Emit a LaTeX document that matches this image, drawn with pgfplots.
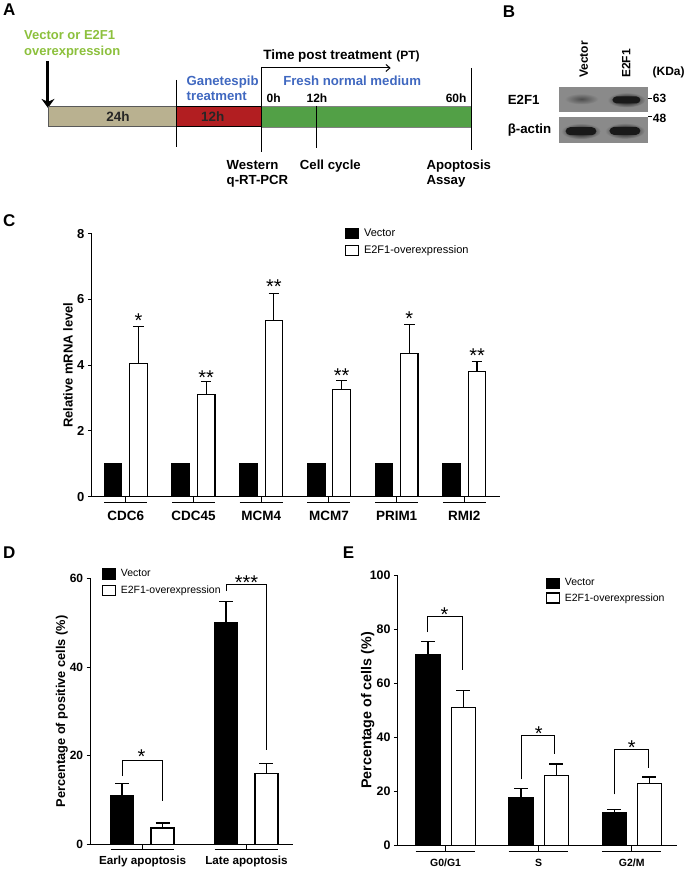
\documentclass[border=0pt]{standalone}
\usepackage{fontspec}
\setmainfont{Liberation Sans}
\usepackage{pgfplots}
\usepackage{pgfplotstable}
\pgfplotsset{compat=1.18}
\usetikzlibrary{arrows.meta}
\definecolor{tanbar}{HTML}{B9B190}
\definecolor{redbar}{HTML}{B21E21}
\definecolor{greenbar}{HTML}{52A046}
\definecolor{bluetxt}{HTML}{4068C0}
\definecolor{greentxt}{HTML}{8CC03C}
\definecolor{blotgray}{HTML}{8A8A8A}
\newcommand{\fs}[1]{\fontsize{#1}{#1}\selectfont}

\pgfplotstableread{
x y
0 1
1 1
2 1
3 1
4 1
5 1
}\dataCvec
\pgfplotstableread{
x y e
0 4.04 1.13
1 3.11 0.39
2 5.35 0.84
3 3.27 0.27
4 4.35 0.90
5 3.80 0.31
}\dataCe
\pgfplotstableread{
x y e
0 11.06 2.64
1 50.2 4.7
}\dataDvec
\pgfplotstableread{
x y e
0 3.68 1.12
1 16.0 2.3
}\dataDe
\pgfplotstableread{
x y e
0 70.6 5.0
1 17.7 3.3
2 12.0 1.3
}\dataEvec
\pgfplotstableread{
x y e
0 51.0 6.5
1 26.0 4.1
2 22.8 2.5
}\dataEe

\tikzset{
  vec/.style={fill=black, draw=black, line width=1.2pt},
  e2f/.style={fill=white, draw=black, line width=1.2pt},
}
\pgfplotsset{
  prism/.style={
    scale only axis, anchor=south west, clip=false,
    axis x line=bottom, axis y line=left,
    axis line style={line width=1pt,-},
    every tick/.style={line width=1pt,black},
    tick align=outside, major tick length=4pt,
    ymin=0, ybar,
    /pgf/number format/assume math mode=true,
    ylabel style={font=\bfseries\fs{13}, anchor=center},
    legend cell align=left,
    legend style={draw=none, fill=none, inner sep=0pt, row sep=4pt, font=\fs{11}, anchor=north west},
    legend image code/.code={\draw[##1,line width=1.2pt] (0pt,-5pt) rectangle (13pt,5pt); \path (16pt,0pt);},
  },
  ebar/.style={error bars/.cd, y dir=plus, y explicit,
    error bar style={line width=1.2pt,black},
    error mark options={rotate=90,mark size=#1,line width=1.2pt,black}},
}

\begin{document}
\begin{tikzpicture}
\begin{scope}[x=1pt,y=-1pt]
\useasboundingbox (0,0) rectangle (688,870);
% ---------------- Panel A
\node[font=\bfseries\fs{17}, anchor=north west, inner sep=0] at (3,4) {A};
\node[font=\bfseries\fs{13}, text=greentxt, anchor=base west, inner sep=0] at (24,39.3) {Vector or E2F1};
\node[font=\bfseries\fs{13}, text=greentxt, anchor=base west, inner sep=0] at (24,55.5) {overexpression};
\draw[line width=3pt, -{Stealth[length=9pt,width=13pt]}] (48,61) -- (48,108);
\fill[tanbar] (48,106) rectangle (177,127);
\fill[redbar] (177,106) rectangle (262,127);
\fill[greenbar] (262,106) rectangle (472,127);
\draw[line width=0.8pt, black!65] (48,106) rectangle (177,127);
\draw[line width=0.8pt, black] (177,106) rectangle (262,127);
\draw[line width=0.6pt, black!50] (262,106) rectangle (472,127);
\node[font=\bfseries\fs{13.5}, text=black!85] at (118,117) {24h};
\node[font=\bfseries\fs{13.5}, text=black!85] at (213,117) {12h};
\draw[line width=1.2pt] (177,80) -- (177,147);
\draw[line width=1.2pt] (262,67) -- (262,152);
\draw[line width=1.2pt] (316.5,106) -- (316.5,148);
\draw[line width=1.2pt] (472,68) -- (472,150);
\draw[line width=1pt, -{Straight Barb[length=4pt,width=7pt]}] (262,68) -- (391,68);
\node[font=\bfseries\fs{13.5}, anchor=base west, inner sep=0] at (263.3,60) {Time post treatment};
\node[font=\bfseries\fs{12}, anchor=base west, inner sep=0] at (396.5,60) {(PT)};
\node[font=\bfseries\fs{13.2}, text=bluetxt, anchor=base west, inner sep=0] at (186.7,86) {Ganetespib};
\node[font=\bfseries\fs{13.2}, text=bluetxt, anchor=base west, inner sep=0] at (186.7,100.7) {treatment};
\node[font=\bfseries\fs{13.2}, text=bluetxt, anchor=base west, inner sep=0] at (283.3,86) {Fresh normal medium};
\node[font=\bfseries\fs{12}, anchor=base west, inner sep=0] at (266.7,102.7) {0h};
\node[font=\bfseries\fs{12}, anchor=base west, inner sep=0] at (306.7,102.7) {12h};
\node[font=\bfseries\fs{12}, anchor=base west, inner sep=0] at (446,102.7) {60h};
\node[font=\bfseries\fs{13.2}, anchor=base west, inner sep=0] at (226.7,169.3) {Western};
\node[font=\bfseries\fs{13.2}, anchor=base west, inner sep=0] at (226.7,185) {q-RT-PCR};
\node[font=\bfseries\fs{13.2}, anchor=base west, inner sep=0] at (300,169.3) {Cell cycle};
\node[font=\bfseries\fs{13.2}, anchor=base west, inner sep=0] at (426.7,169.3) {Apoptosis};
\node[font=\bfseries\fs{13.2}, anchor=base west, inner sep=0] at (426.7,185) {Assay};
% ---------------- Panel B
\node[font=\bfseries\fs{17}, anchor=north west, inner sep=0] at (503,6) {B};
\node[font=\bfseries\fs{12}, rotate=90, anchor=base west, inner sep=0] at (588.5,78) {Vector};
\node[font=\bfseries\fs{12}, rotate=90, anchor=base west, inner sep=0] at (631,78) {E2F1};
\node[font=\bfseries\fs{12}, anchor=base west, inner sep=0] at (653,75.5) {(KDa)};
\fill[blotgray] (559.7,86.7) rectangle (649,112);
\fill[blotgray] (559.7,117) rectangle (649,143);
\shade[inner color=black!70, outer color=blotgray] (582,99) ellipse (17 and 5.5);
\shade[inner color=black, outer color=blotgray] (627,100) ellipse (19 and 7.5);
\fill[black!90, rounded corners=4pt] (613,96.5) rectangle (641,103.5);
\shade[inner color=black, outer color=blotgray] (581.5,131.3) ellipse (20 and 8);
\fill[black!90, rounded corners=4.5pt] (566,127.3) rectangle (597,135.3);
\shade[inner color=black, outer color=blotgray] (625.5,131) ellipse (20 and 8);
\fill[black!90, rounded corners=4.5pt] (610,127) rectangle (641,135);
\node[font=\bfseries\fs{13.3}, anchor=base west, inner sep=0] at (508,105) {E2F1};
\node[font=\bfseries\fs{13.3}, anchor=base west, inner sep=0] at (508,134) {β-actin};
\draw[line width=0.8pt] (649,98) -- (652.5,98);
\draw[line width=0.8pt] (649,116.5) -- (652.5,116.5);
\node[font=\bfseries\fs{12}, anchor=base west, inner sep=0] at (653.3,103) {63};
\node[font=\bfseries\fs{12}, anchor=base west, inner sep=0] at (653.3,122.5) {48};
% panel letters
\node[font=\bfseries\fs{17}, anchor=north west, inner sep=0] at (3,215) {C};
\node[font=\bfseries\fs{17}, anchor=north west, inner sep=0] at (3,547) {D};
\node[font=\bfseries\fs{17}, anchor=north west, inner sep=0] at (343,547) {E};
\end{scope}

% ---------------- Panel C
\begin{axis}[prism, at={(92pt,-497pt)}, width=408pt, height=263pt,
  xmin=-0.5, xmax=5.52, ymax=8, ytick={0,2,4,6,8},
  xtick={0,...,5}, xticklabels={CDC6,CDC45,MCM4,MCM7,PRIM1,RMI2},
  xticklabel style={font=\bfseries\fs{13.5}, yshift=-7pt},
  yticklabel style={font=\bfseries\fs{13}},
  ylabel={Relative mRNA level}, ylabel style={at={(axis description cs:-0.059,0.5)}},
  bar width=17.5pt,
  legend style={at={(axis description cs:0.62,1.027)}},
]
\addplot[vec, bar shift=-12.7pt] table[x=x,y=y]{\dataCvec};
\addplot[e2f, bar shift=12.7pt, ebar=5.3pt] table[x=x,y=y,y error=e]{\dataCe};
\legend{Vector,E2F1-overexpression}
\pgfplotsinvokeforeach{0,...,5}{
  \draw[line width=1pt] ([xshift=-21.5pt,yshift=-6pt]axis cs:#1,0) -- ([xshift=21.5pt,yshift=-6pt]axis cs:#1,0);
  \draw[line width=1pt] (axis cs:#1,0) -- ([yshift=-6pt]axis cs:#1,0);
}
\node[font=\fs{20}, anchor=base] at ([xshift=12.7pt]axis cs:0,5.14) {*};
\node[font=\fs{20}, anchor=base] at ([xshift=12.7pt]axis cs:1,3.42) {**};
\node[font=\fs{20}, anchor=base] at ([xshift=12.7pt]axis cs:2,6.17) {**};
\node[font=\fs{20}, anchor=base] at ([xshift=12.7pt]axis cs:3,3.48) {**};
\node[font=\fs{20}, anchor=base] at ([xshift=12.7pt]axis cs:4,5.22) {*};
\node[font=\fs{20}, anchor=base] at ([xshift=12.7pt]axis cs:5,4.07) {**};
\end{axis}

% ---------------- Panel D
\begin{axis}[prism, at={(90.7pt,-845pt)}, width=202.3pt, height=265.7pt,
  xmin=-0.5, xmax=1.445, ymax=60, ytick={0,20,40,60},
  xtick={0,1}, xticklabels={Early apoptosis,Late apoptosis},
  xticklabel style={font=\bfseries\fs{11.7}, yshift=-4pt},
  yticklabel style={font=\bfseries\fs{12}},
  ylabel={Percentage of positive cells (\%)}, ylabel style={font=\bfseries\fs{12.8}, at={(axis description cs:-0.142,0.5)}},
  bar width=23pt,
  legend style={at={(axis description cs:0.054,1.043)}, font=\fs{10.5}},
]
\addplot[vec, bar shift=-20.5pt, ebar=7pt] table[x=x,y=y,y error=e]{\dataDvec};
\addplot[e2f, bar shift=20pt, ebar=7pt] table[x=x,y=y,y error=e]{\dataDe};
\legend{Vector,E2F1-overexpression}
\pgfplotsinvokeforeach{0,1}{
  \draw[line width=1pt] ([xshift=-32pt,yshift=-5pt]axis cs:#1,0) -- ([xshift=31.5pt,yshift=-5pt]axis cs:#1,0);
  \draw[line width=1pt] (axis cs:#1,0) -- ([yshift=-5pt]axis cs:#1,0);
}
\draw[line width=1pt] ([xshift=-20.5pt]axis cs:0,15.4) |- ([xshift=20pt]axis cs:0,19.0) -- ([xshift=20pt]axis cs:0,9.7);
\draw[line width=1pt] ([xshift=-20.5pt]axis cs:1,57.2) |- ([xshift=20pt]axis cs:1,58.8) -- ([xshift=20pt]axis cs:1,21.4);
\node[font=\fs{20}, anchor=base] at ([xshift=-1pt]axis cs:0,18.2) {*};
\node[font=\fs{20}, anchor=base] at (axis cs:1,57.5) {***};
\end{axis}

% ---------------- Panel E
\begin{axis}[prism, at={(398.3pt,-846pt)}, width=279.7pt, height=270pt,
  xmin=-0.512, xmax=2.49, ymax=100, ytick={0,20,40,60,80,100},
  xtick={0,1,2}, xticklabels={G0/G1,S,G2/M},
  xticklabel style={font=\bfseries\fs{10.5}, yshift=-6pt},
  yticklabel style={font=\bfseries\fs{12.4}},
  ylabel={Percentage of cells (\%)}, ylabel style={font=\bfseries\fs{14.3}, at={(axis description cs:-0.108,0.5)}},
  bar width=24pt,
  legend style={at={(axis description cs:0.528,0.996)}, font=\fs{10.5}, row sep=2pt},
]
\addplot[vec, bar shift=-17.7pt, ebar=7pt] table[x=x,y=y,y error=e]{\dataEvec};
\addplot[e2f, bar shift=17.7pt, ebar=7pt] table[x=x,y=y,y error=e]{\dataEe};
\legend{Vector,E2F1-overexpression}
\pgfplotsinvokeforeach{0,1,2}{
  \draw[line width=1pt] ([xshift=-30pt,yshift=-6.7pt]axis cs:#1,0) -- ([xshift=29.5pt,yshift=-6.7pt]axis cs:#1,0);
  \draw[line width=1pt] (axis cs:#1,0) -- ([yshift=-6.7pt]axis cs:#1,0);
}
\draw[line width=1pt] ([xshift=-17.7pt]axis cs:0,79.0) |- ([xshift=17.3pt]axis cs:0,84.7) -- ([xshift=17.3pt]axis cs:0,64.9);
\draw[line width=1pt] ([xshift=-17.7pt]axis cs:1,24.4) |- ([xshift=16pt]axis cs:1,40.7) -- ([xshift=16pt]axis cs:1,33.7);
\draw[line width=1pt] ([xshift=-17.7pt]axis cs:2,18.9) |- ([xshift=17pt]axis cs:2,35.6) -- ([xshift=17pt]axis cs:2,28.8);
\node[font=\fs{20}, anchor=base] at ([xshift=-1pt]axis cs:0,83.0) {*};
\node[font=\fs{20}, anchor=base] at (axis cs:1,39.0) {*};
\node[font=\fs{20}, anchor=base] at (axis cs:2,33.6) {*};
\end{axis}
\end{tikzpicture}
\end{document}
